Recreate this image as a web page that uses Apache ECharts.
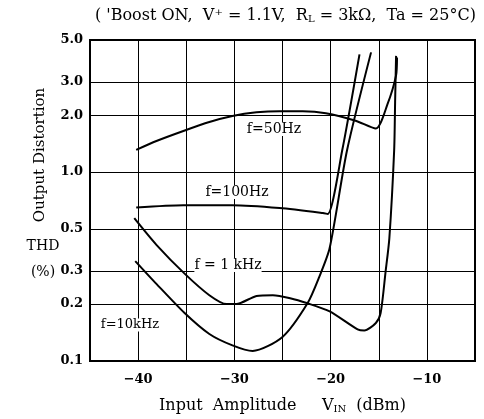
<!DOCTYPE html>
<html>
<head>
<meta charset="utf-8">
<script src="https://cdn.jsdelivr.net/npm/echarts@6/dist/echarts.min.js"></script>
<style>
html,body{margin:0;padding:0;background:#fff;}
#chart{width:484px;height:419px;}
</style>
</head>
<body>
<div id="chart"></div>
<script>
const xTicks = [-40, -30, -20, -10];
const yTicks = [0.1, 0.2, 0.3, 0.5, 1.0, 2.0, 3.0, 5.0];
const yGrid = [0.2, 0.3, 0.5, 1.0, 2.0, 3.0];

const f50 = [[-40.2,1.31],[-38.1,1.46],[-35.3,1.65],[-32.6,1.84],[-30.2,1.98],[-27.7,2.07],[-25.3,2.10],[-22.9,2.10],[-20.5,2.05],[-17.4,1.87],[-15.3,1.70],[-14.1,2.28],[-13.2,3.25],[-13.1,4.04]];
const f100 = [[-40.2,0.65],[-35.3,0.668],[-30.2,0.668],[-25.3,0.645],[-20.8,0.607],[-20.3,0.60],[-18.8,1.30],[-17.0,4.2]];
const f1k = [[-40.4,0.57],[-38.1,0.412],[-35.2,0.291],[-32.6,0.223],[-30.8,0.2],[-29.8,0.2],[-27.7,0.221],[-26.0,0.223],[-24.2,0.215],[-22.4,0.202],[-20.1,0.183],[-17.2,0.147],[-16.5,0.145],[-15.3,0.159],[-14.8,0.180],[-14.3,0.294],[-13.9,0.446],[-13.4,1.30],[-13.3,2.35],[-13.2,4.12]];
const f10k = [[-40.3,0.338],[-38.1,0.256],[-35.2,0.180],[-32.6,0.139],[-30.2,0.121],[-28.1,0.113],[-25.0,0.134],[-22.4,0.202],[-21.2,0.277],[-20.1,0.396],[-18.3,1.30],[-15.8,4.3]];

const FONT = '"DejaVu Serif", "Liberation Serif", serif';
const chart = echarts.init(document.getElementById('chart'), null, {renderer: 'canvas'});

function line(name, data) {
  return {
    name: name, type: 'line', data: data, smooth: 0.25, symbol: 'none',
    lineStyle: {color: '#000', width: 2}, silent: true, z: 5
  };
}

const titleText = "( 'Boost ON,  V\u207A = 1.1V,  R{s|L} = 3k\u03A9,  Ta = 25\u00B0C)";

const option = {
  backgroundColor: '#fff',
  animation: false,
  grid: {left: 90, right: 9, top: 40, bottom: 53, show: true, borderColor: '#000', borderWidth: 2, backgroundColor: 'transparent'},
  xAxis: {
    type: 'value', min: -45, max: -5, interval: 5,
    axisLine: {show: true, lineStyle: {color: '#000', width: 2}},
    axisTick: {show: false},
    splitLine: {show: true, lineStyle: {color: '#000', width: 1}},
    axisLabel: {
      color: '#000', fontFamily: FONT, fontSize: 13, fontWeight: 'bold', margin: 12,
      formatter: v => xTicks.indexOf(v) >= 0 ? '\u2212' + Math.abs(v) : ''
    },
    name: '{a|Input  Amplitude     V}{s|IN}{a|  (dBm)}',
    nameLocation: 'middle', nameGap: 37,
    nameTextStyle: {
      rich: {
        a: {fontFamily: FONT, fontSize: 16, color: '#000'},
        s: {fontFamily: FONT, fontSize: 10, color: '#000', verticalAlign: 'bottom', padding: [6, 0, 0, 0]}
      }
    }
  },
  yAxis: {
    type: 'log', logBase: 10, min: 0.1, max: 5,
    axisLine: {show: true, lineStyle: {color: '#000', width: 2}},
    axisTick: {show: false},
    splitLine: {show: false},
    axisLabel: {
      color: '#000', fontFamily: FONT, fontSize: 13, fontWeight: 'bold', margin: 7,
      customValues: yTicks,
      formatter: v => Number(v).toFixed(1)
    }
  },
  graphic: [
    {type: 'text', left: 95, top: 8, style: {text: titleText, font: '16px ' + FONT, fill: '#000',
      rich: {s: {fontFamily: FONT, fontSize: 10, fill: '#000', verticalAlign: 'bottom', padding: [6,0,0,0]}}}},
    {type: 'text', x: 40, y: 155, rotation: Math.PI / 2, style: {text: 'Output Distortion', font: '15px ' + FONT, fill: '#000', align: 'center', verticalAlign: 'middle'}},
    {type: 'text', x: 43, y: 246, style: {text: 'THD', font: '14px ' + FONT, fill: '#000', align: 'center', verticalAlign: 'middle'}},
    {type: 'text', x: 43, y: 272, style: {text: '(%)', font: '14px ' + FONT, fill: '#000', align: 'center', verticalAlign: 'middle'}},
    {type: 'text', x: 274, y: 129, style: {text: 'f=50Hz', font: '14px ' + FONT, fill: '#000', align: 'center', verticalAlign: 'middle', backgroundColor: '#fff'}, z: 10},
    {type: 'text', x: 237, y: 192, style: {text: 'f=100Hz', font: '14px ' + FONT, fill: '#000', align: 'center', verticalAlign: 'middle', backgroundColor: '#fff'}, z: 10},
    {type: 'text', x: 228, y: 265, style: {text: 'f = 1 kHz', font: '14px ' + FONT, fill: '#000', align: 'center', verticalAlign: 'middle', backgroundColor: '#fff'}, z: 10},
    {type: 'text', x: 130, y: 325, style: {text: 'f=10kHz', font: '13px ' + FONT, fill: '#000', align: 'center', verticalAlign: 'middle', backgroundColor: '#fff'}, z: 10}
  ],
  series: [
    {
      type: 'line', data: [], silent: true,
      markLine: {
        silent: true, symbol: 'none', label: {show: false},
        lineStyle: {color: '#000', width: 1, type: 'solid'},
        data: yGrid.map(v => ({yAxis: v}))
      }
    },
    line('f=50Hz', f50),
    line('f=100Hz', f100),
    line('f=1kHz', f1k),
    line('f=10kHz', f10k)
  ]
};
chart.setOption(option);
</script>
</body>
</html>
